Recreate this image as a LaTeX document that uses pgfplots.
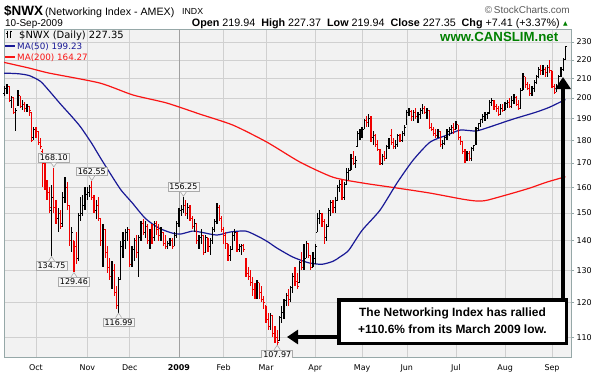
\documentclass[border=0pt]{standalone}
\usepackage{fontspec}
\setmainfont{Liberation Sans}
\newfontfamily\dejavu{DejaVu Sans}
\usepackage{pgfplots}
\usepackage{pgfplotstable}
\pgfplotsset{compat=1.18}
\usetikzlibrary{arrows.meta}

\definecolor{plotbg}{RGB}{242,242,242}
\definecolor{gridcol}{RGB}{208,208,208}
\definecolor{grid2009}{RGB}{160,160,160}
\definecolor{framecol}{RGB}{150,168,168}
\definecolor{ma50}{RGB}{25,25,150}
\definecolor{ma200}{RGB}{250,20,20}
\definecolor{barred}{RGB}{240,0,0}
\definecolor{canslim}{RGB}{0,128,0}
\definecolor{lblborder}{RGB}{170,170,170}
\definecolor{lblfill}{RGB}{246,246,246}

\tikzset{lbl/.style={draw=lblborder, fill=lblfill, line width=0.6bp,
    font=\dejavu\fontsize{8}{9}\selectfont, inner xsep=1.6bp, inner ysep=1.4bp}}

\pgfdeclareplotmark{ctick}{\pgfpathmoveto{\pgfpointorigin}\pgfpathlineto{\pgfpoint{1.3bp}{0bp}}\pgfusepathqstroke}
\pgfdeclareplotmark{otick}{\pgfpathmoveto{\pgfpointorigin}\pgfpathlineto{\pgfpoint{-1.3bp}{0bp}}\pgfusepathqstroke}

% daily bars: trading-day index (0 = 1 Oct 2008), open, high, low, close, r=1 for a down close
\pgfplotstableread{
x o h l c r
-14 202 206 201 205 0
-13 205 207 202 206 0
-12 206 206 198 199 1
-11 199 201 195 200 0
-10 200 200 192 193 1
-9 193 195 184 194 0
-8 197 204 196 201 0
-7 201 201 195 196 1
-6 196 199 194 197 0
-5 197 198 193 195 1
-4 195 197 193 196 0
-3 196 196 191 194 1
-2 193 193 179 180 1
-1 181 186 180 185 0
0 185 186 181 184 1
1 184 184 178 179 1
2 179 181 176 177 1
3 175 176 160 170 1
4 170 171 159 160 1
5 161 163 155 158 1
6 158 160 150 152 1
7 151 161 134.75 156 0
8 157 168.10 150 152 1
9 152 155 146 148 1
10 148 152 143 150 0
11 150 151 144 145 1
12 146 158 145 156 0
13 156 164 154 161 0
14 160 162 151 153 1
15 153 153 138 140 1
16 140 145 136 143 0
17 140 140 129.46 134 1
18 138 143 132 133 1
19 134 150 133 149 0
20 149 156 147 150 0
21 150 157 149 153 0
22 153 160 151 157 0
23 157 160 155 158 0
24 158 161 156 160 0
25 160 162.55 155 156 1
26 156 157 150 151 1
27 151 155 148 153 0
28 153 156 147 148 1
29 148 148 138 140 1
30 140 146 131 144 0
31 144 144 134 136 1
32 136 138 129 131 1
33 131 134 127 128 1
34 128 133 124 130 0
35 130 132 122 123 1
36 123 125 118 119 1
37 119 128 116.99 127 0
38 127 140 127 138 0
39 138 143 134 140 0
40 140 144 137 143 0
41 143 145 140 144 0
42 144 144 131 132 1
43 132 138 131 137 0
44 137 141 133 140 0
45 140 142 134 136 1
46 136 142 128 141 0
47 141 147 140 146 0
48 146 148 142 143 1
49 143 147 141 145 0
50 145 146 139 140 1
51 140 144 137 143 0
52 143 146 139 141 1
53 141 147 140 146 0
54 146 147 142 144 1
55 144 146 140 142 1
56 142 145 140 143 0
57 143 143 138 139 1
58 139 142 137 138 1
59 138 140 137 139 0
60 139 141 138 140 0
61 140 141 137 138 1
62 138 143 138 142 0
63 142 147 141 146 0
64 146 152 145 151 0
65 151 153 149 151.5 0
66 151.5 156.25 150 153 0
67 153 155 149 150 1
68 150 154 148 152 0
69 152 153 147 148 1
70 148 149 144 145 1
71 145 148 143 146 0
72 146 146 139 140 1
73 140 142 137 141 0
74 141 144 139 142 0
75 142 142 135 136 1
76 136 142 136 141 0
77 141 141 136 138 1
78 138 141 135 140 0
79 140 145 139 144 0
80 144 148 143 147 0
81 147 154 146 152 0
82 152 153 147 148 1
83 148 149 143 144 1
84 144 145 139 142 1
85 142 143 137 139 1
86 139 139 133 135 1
87 135 138 133 137 0
88 137 143 137 142 0
89 142 144 140 143 0
90 143 143 136 137 1
91 137 139 136 138 0
92 138 139 135 138.5 0
93 138.5 139 136 137 1
94 134 134 128 129 1
95 129 131 127 128 1
96 128 130 125 126 1
97 126 128 122 124 1
98 124 126 121 122 1
99 122 127 121 126 0
100 126 126 121 123 1
101 123 125 120 121 1
102 121 122 118 120 1
103 119 119 114 115 1
104 115 117 112 113 1
105 113 117 112 116 0
106 116 116 110 111 1
107 111 113 108.5 110 1
108 110 112 107.97 108.5 1
109 109 116 109 115.5 0
110 115.5 119 114 117 0
111 117 121 115 120.5 0
112 120.5 123 119 122 0
113 122 124 119 121 1
114 121 125 120 124.5 0
115 124.5 129 123 128 0
116 128 131 125 126.5 1
117 126.5 129 124 125 1
118 126 133 126 132.5 0
119 132.5 136 130 131 1
120 131 139 130 134 0
121 134 140 134 139 0
122 139 139 134 135 1
123 135 135 130 131 1
124 131 136 131 134 0
125 134 139 132 138 0
126 143 150 143 148 0
127 148 151 146 150 0
128 150 150 145 147 1
129 147 148 139 141 1
130 141 146 140 145 0
131 145 152 145 151 0
132 151 155 149 154 0
133 154 155 150 152 1
134 152 156 150 155 0
135 155 161 155 160 0
136 160 163 158 161 0
137 161 163 155 156 1
138 156 162 155 161 0
139 161 168 161 166 0
140 166 168 163 167 0
141 167 174 167 172 0
142 172 175 169 170 1
143 170 173 168 171 0
144 177 184 177 183 0
145 183 185 180 183.5 0
146 183.5 186 181 185 0
147 185 190 185 189 0
148 189 191 186 188 1
149 188 192 186 190 0
150 190 191 179 181 1
151 181 184 178 182 0
152 182 183 177 178 1
153 178 180 175 176 1
154 176 176 169 170 1
155 170 174 169 173 0
156 173 175 171 172 1
157 172 178 172 177 0
158 177 181 176 180 0
159 182 185 178 179 1
160 179 181 176 177 1
161 177 180 176 178 0
162 178 183 177 182 0
163 182 183 179 180 1
164 180 184 179 183 0
165 183 187 182 186 0
166 187 194 187 193 0
167 193 195 191 193.5 0
168 193.5 194 189 191 1
169 191 194 189 193 0
170 193 195 190 191 1
171 191 193 188 192 0
172 192 195 190 194 0
173 194 197 192 195 0
174 195 196 192 193 1
175 193 195 190 194 0
176 194 194 185 186 1
177 186 188 184 185 1
178 185 186 182 183 1
179 183 185 181 182 1
180 182 185 181 184 0
181 184 184 177 178 1
182 178 180 176 178.5 0
183 178.5 182 178 181 0
184 181 185 180 184 0
185 184 186 182 185 0
186 185 187 183 186 0
187 186 188 183 185 1
188 185 189 185 187 0
189 187 187 180 181 1
190 181 182 178 179.5 1
191 179.5 179.5 174 175 1
192 175 176 170 173 1
193 173 175 171 174 0
194 174 175 171 172 1
195 172 177 171 176.5 0
196 176.5 178 175 177.5 0
197 178 186 178 185.5 0
198 185.5 188 184 187.5 0
199 187.5 190 186 189.5 0
200 189.5 192 188 191 0
201 191 193 189 192 0
202 192 193 190 192.5 0
203 193 199 192 198 0
204 198 200 196 199 0
205 199 199 194 196 1
206 196 197 193 195 1
207 195 196 191 192 1
208 192 197 192 195 0
209 195 197 193 194 1
210 194 198 194 197.5 0
211 197.5 199 195 198 0
212 198 200 195 196 1
213 196 201 195 199 0
214 199 202 197 200 0
215 200 201 196 197 1
216 197 199 194 195 1
217 195 205 195 204 0
218 204 213 204 211 0
219 211 211 205 207 1
220 207 208 204 205 1
221 205 207 201 202 1
222 202 206 201 205 0
223 205 209 203 208 0
224 208 212 207 211 0
225 211 216 210 215 0
226 215 217 212 214 1
227 214 217 212 215 0
228 215 216 211 213 1
229 213 217 211 216 0
230 216 220 213 214 1
231 214 214 205 206 1
232 206 207 202 203 1
233 203 207 203 206 0
234 206 212 206 211 0
235 211 216 211 215 0
236 215 221 214 219.94 0
237 219.94 227.37 219.94 227.35 0
}\bars

\pgfplotstableread{
x v
-14.3 212.8
-8 212.5
-3 211.5
2 208.5
6 203.5
11 197
16 191
20 186
25 178.5
29 172
33 166
38 159
43 154
49 148
55 144.5
61 142.7
65 142.4
70 143.4
74 143
81 142
87 143.1
94 143.4
100 141.3
104 139.5
108 137.4
115 134.4
122 132.5
128 132
133 133
136 134.4
140 136.7
146 143.7
154 151.1
161.6 161.7
168.8 171.2
176.4 179.1
184 182.3
190 184.6
197 184.2
203 186
210 188.5
215 190.2
224 193.1
230 195.5
237 199.23
}\maA

\pgfplotstableread{
x v
-14.3 218.6
-3 215.5
6 212.8
28.6 207.6
43.4 201.5
58.6 197.5
73.4 192.1
88.2 186.9
103.4 179.1
118.2 170.4
132.9 164.1
146.4 161.7
161.6 159.7
176.4 157.7
191.1 155.3
197.4 154.6
201.9 154.9
213.5 157.7
221.1 159.7
228.7 162.1
237 164.27
}\maB

\begin{document}
\begin{tikzpicture}
\path[use as bounding box] (0bp,0bp) rectangle (600bp,-378bp);
% price scale is logarithmic: values are plotted as ln(price), ticks labelled in price
\begin{axis}[
  at={(4bp,-357bp)}, anchor=south west,
  scale only axis, width=567bp, height=328bp,
  xmin=-14.3, xmax=239.5,
  ymin=4.65110, ymax=5.47059,
  axis background/.style={fill=plotbg},
  axis line style={draw=framecol, line width=0.8bp},
  grid=major,
  major grid style={draw=gridcol, line width=0.6bp},
  xtick={0,23,42,84,103,125,146,166,188,210,231},
  xticklabels={Oct,Nov,Dec,Feb,Mar,Apr,May,Jun,Jul,Aug,Sep},
  extra x ticks={64},
  extra x tick labels={\textbf{2009}},
  extra x tick style={major grid style={draw=grid2009, line width=0.7bp}},
  xtick style={draw=none},
  ytick={4.70048,4.78749,4.86753,4.94164,5.01064,5.07517,5.13580,5.19296,5.24702,5.29832,5.34711,5.39363,5.43808},
  yticklabels={110,120,130,140,150,160,170,180,190,200,210,220,230},
  ytick pos=right, yticklabel pos=right,
  tick align=outside,
  major tick length=3bp,
  ytick style={draw=framecol, line width=0.6bp},
  tick label style={font=\dejavu\fontsize{8}{9}\selectfont},
  yticklabel style={anchor=west, xshift=-1bp},
  xticklabel style={yshift=-1bp},
]
% moving averages
\addplot[ma200, line width=1.2bp, smooth, tension=0.4] table[x=x, y expr=ln(\thisrow{v})] {\maB};
\addplot[ma50, line width=1.2bp, smooth, tension=0.4] table[x=x, y expr=ln(\thisrow{v})] {\maA};
% up bars (black)
\addplot[only marks, mark=ctick, black, mark options={line width=1bp},
  restrict expr to domain={\thisrow{r}}{-0.5:0.5},
  error bars/.cd, y dir=both, y explicit, error mark=none,
  error bar style={line width=1.25bp, black}]
  table[x=x, y expr=ln(\thisrow{c}), y error plus expr=ln(\thisrow{h})-ln(\thisrow{c}), y error minus expr=ln(\thisrow{c})-ln(\thisrow{l})] {\bars};
\addplot[only marks, mark=otick, black, mark options={line width=1bp},
  restrict expr to domain={\thisrow{r}}{-0.5:0.5}]
  table[x=x, y expr=ln(\thisrow{o})] {\bars};
% down bars (red)
\addplot[only marks, mark=ctick, barred, mark options={line width=1bp},
  restrict expr to domain={\thisrow{r}}{0.5:1.5},
  error bars/.cd, y dir=both, y explicit, error mark=none,
  error bar style={line width=1.25bp, barred}]
  table[x=x, y expr=ln(\thisrow{c}), y error plus expr=ln(\thisrow{h})-ln(\thisrow{c}), y error minus expr=ln(\thisrow{c})-ln(\thisrow{l})] {\bars};
\addplot[only marks, mark=otick, barred, mark options={line width=1bp},
  restrict expr to domain={\thisrow{r}}{0.5:1.5}]
  table[x=x, y expr=ln(\thisrow{o})] {\bars};
% labelled highs and lows (positions are ln of the values shown)
\node[lbl, anchor=south, yshift=5bp] (H1) at (axis cs:8,5.12456) {168.10};
\node[lbl, anchor=south, yshift=5bp] (H2) at (axis cs:25,5.09100) {162.55};
\node[lbl, anchor=south, yshift=5bp] (H3) at (axis cs:66,5.05146) {156.25};
\node[lbl, anchor=north, yshift=-5bp] (L1) at (axis cs:7,4.90342) {134.75};
\node[lbl, anchor=north, yshift=-5bp] (L2) at (axis cs:17,4.86337) {129.46};
\node[lbl, anchor=north, yshift=-5bp] (L3) at (axis cs:37,4.76209) {116.99};
\node[lbl, anchor=north, yshift=-5bp] (L4) at (axis cs:108,4.68185) {107.97};
\end{axis}

\begin{scope}[x=1bp,y=1bp]
% pointers of the value labels
\foreach \n in {H1,H2,H3}{
  \filldraw[draw=lblborder, fill=lblfill, line width=0.6bp] ([xshift=-3bp]\n.south) -- ([yshift=-4.5bp]\n.south) -- ([xshift=3bp]\n.south);
}
\foreach \n in {L1,L2,L3,L4}{
  \filldraw[draw=lblborder, fill=lblfill, line width=0.6bp] ([xshift=-3bp]\n.north) -- ([yshift=4.5bp]\n.north) -- ([xshift=3bp]\n.north);
}

% legend inside the plot
\draw[line width=0.9bp] (7,-31) -- (7,-38) (6,-33) -- (7,-33) (7,-36.5) -- (8,-36.5);
\draw[line width=0.9bp] (10.5,-30.5) -- (10.5,-37.5) (9.5,-36) -- (10.5,-36) (10.5,-31.5) -- (11.5,-31.5);
\node[anchor=base west, inner sep=0, font=\dejavu\fontsize{10}{11}\selectfont] at (19,-38) {\$NWX (Daily) 227.35};
\draw[ma50, line width=2bp] (5,-46) -- (15,-46);
\node[anchor=base west, inner sep=0, text=ma50, font=\dejavu\fontsize{8.8}{10}\selectfont] at (17,-49.3) {MA(50) 199.23};
\draw[ma200, line width=2bp] (5,-57) -- (15,-57);
\node[anchor=base west, inner sep=0, text=ma200, font=\dejavu\fontsize{8.8}{10}\selectfont] at (17,-60.3) {MA(200) 164.27};
\node[anchor=base west, inner sep=0, text=canslim, font=\bfseries\fontsize{13.3}{15}\selectfont] at (440,-41.5) {www.CANSLIM.net};

% header
\node[anchor=base west, inner sep=0, font=\bfseries\fontsize{13.5}{16}\selectfont] at (4,-15) {\$NWX};
\node[anchor=base west, inner sep=0, font=\fontsize{10.7}{13}\selectfont] at (45,-15) {(Networking Index - AMEX)};
\node[anchor=base west, inner sep=0, font=\fontsize{8.8}{11}\selectfont] at (182,-14.5) {INDX};
\node[anchor=base east, inner sep=0, text=black!65, font=\fontsize{10}{12}\selectfont] at (570,-13) {\textcopyright\,StockCharts.com};
\node[anchor=base west, inner sep=0, font=\fontsize{10}{12}\selectfont] at (5,-26) {10-Sep-2009};
\node[anchor=base east, inner sep=0, font=\fontsize{10.8}{13}\selectfont] at (560,-26)
  {\textbf{Open} 219.94 \ \textbf{High} 227.37 \ \textbf{Low} 219.94 \ \textbf{Close} 227.35 \ \textbf{Chg} +7.41 (+3.37\%)};
\node[anchor=base west, inner sep=0, text=canslim, font=\dejavu\fontsize{6}{7}\selectfont] at (563,-25) {▲};

% annotation arrows and text box
\draw[line width=4bp, -{Triangle[length=11bp,width=14bp]}] (340,-337) -- (287,-337);
\draw[line width=3.5bp, -{Triangle[length=12bp,width=15bp]}] (563,-299) -- (563,-77);
\draw[line width=3.5bp, fill=white] (338.75,-299.75) rectangle (566.25,-343.25);
\node[font=\bfseries\fontsize{12}{14}\selectfont, inner sep=0] at (452.5,-313.5) {The Networking Index has rallied};
\node[font=\bfseries\fontsize{12}{14}\selectfont, inner sep=0] at (452.5,-329) {+110.6\% from its March 2009 low.};
\end{scope}
\end{tikzpicture}
\end{document}
